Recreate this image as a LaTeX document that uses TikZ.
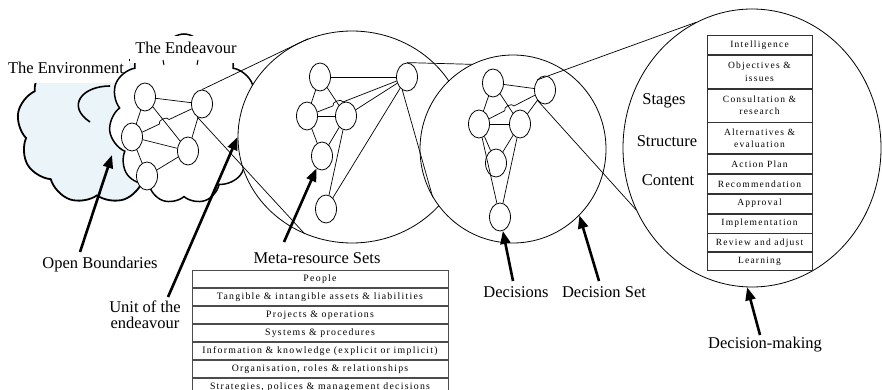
\documentclass[tikz,border=0pt]{standalone}
\usepackage{fontspec}
\setmainfont{Liberation Serif}
\newfontfamily\tabfont[LetterSpace=13]{Liberation Serif}
\usetikzlibrary{shapes.geometric,shapes.symbols,arrows.meta,calc,positioning}
\definecolor{envblue}{HTML}{EAF4F9}
\begin{document}
\begin{tikzpicture}[x=1pt,y=-1pt,
  nd/.style={ellipse, draw, line width=0.8pt, fill=white, minimum width=21pt, minimum height=28pt, inner sep=0pt},
  ed/.style={line width=0.7pt},
  bigc/.style={ellipse, draw, line width=0.8pt, fill=white, inner sep=0pt},
  lbl/.style={font=\fontsize{16.5}{16}\selectfont, inner sep=1pt},
  bigarrow/.style={line width=2.6pt, -{Triangle[length=13pt,width=10pt]}},
  mrow/.style={draw=black!70, line width=1pt, minimum width=256pt, minimum height=17pt, inner sep=0pt, font=\tabfont\fontsize{9.8}{11}\selectfont},
  drow/.style={draw=black!80, line width=0.8pt, minimum width=105pt, inner sep=0pt, align=center, font=\tabfont\fontsize{9.5}{12.5}\selectfont}]
\useasboundingbox (0,0) rectangle (882,390);

% environment cloud
\node[cloud, cloud puffs=9, cloud puff arc=110, draw, line width=1.8pt, fill=envblue, minimum width=160pt, minimum height=156pt, inner sep=0pt] (envc) at (97,126) {};
\draw[line width=1.6pt] (110,86) .. controls (82,86) and (66,106) .. (90,122);
\fill[white] (0,46) rectangle (129,83);
\node[lbl] (envl) at (66,68) {The Environment};

% endeavour cloud
\node[cloud, cloud puffs=11, cloud puff arc=120, draw, line width=1.5pt, fill=white, minimum width=150pt, minimum height=170pt, inner sep=0pt] (endc) at (184,119) {};
\fill[white] (130,36) rectangle (240,63);
\node[lbl] (endl) at (186,48) {The Endeavour};
\draw[line width=1pt] (163,60) -- (164,65);
\draw[line width=1pt] (198,60) -- (197,65);

% big circles
\node[bigc, minimum width=228pt, minimum height=212pt] (c1) at (352,137) {};
\node[bigc, minimum width=186pt, minimum height=188pt] (c2) at (513,149) {};
\node[bigc, minimum width=258pt, minimum height=278pt] (c3) at (752,148) {};

% endeavour network
\node[nd] (n1) at (145,97) {};
\node[nd] (n2) at (202,104) {};
\node[nd] (n3) at (132,137) {};
\node[nd] (n4) at (188,151) {};
\node[nd] (n5) at (147,176) {};
\draw[ed] (n1) -- (n2);
\draw[ed] (n1) -- (n3);
\draw[ed] (n1) -- (n4);
\draw[ed] (n3) -- (n4);
\draw[ed] (n3) -- (n5);
\draw[ed] (n5) -- (n4);
\draw[ed] (n2) -- (n4);
\draw[ed] (n3) -- ($(n3)!0.39!(n2)$) to[bend left=90] ($(n3)!0.53!(n2)$) -- (n2);

% meta-resource network
\node[nd] (m1) at (320,77) {};
\node[nd] (m2) at (407,77) {};
\node[nd] (m3) at (307,116) {};
\node[nd] (m4) at (346,116) {};
\node[nd] (m5) at (322,156) {};
\node[nd] (m6) at (326,209) {};
\draw[ed] (m1) -- (m2);
\draw[ed] (m1) -- (m3);
\draw[ed] (m1) -- (m4);
\draw[ed] (m3) -- (m4);
\draw[ed] (m3) -- (m5);
\draw[ed] (m4) -- (m5);
\draw[ed] (m2) -- (m4);
\draw[ed] (m4) -- (m6);
\draw[ed] (m2) -- (m6);
\draw[ed] (m3) -- ($(m3)!0.26!(m2)$) to[bend left=90] ($(m3)!0.36!(m2)$) -- (m2);

% decision network
\node[nd] (d1) at (493,83) {};
\node[nd] (d2) at (545,90) {};
\node[nd] (d3) at (479,124) {};
\node[nd] (d4) at (520,124) {};
\node[nd] (d5) at (496,163) {};
\node[nd] (d6) at (500,217) {};
\draw[ed] (d1) -- (d2);
\draw[ed] (d1) -- (d3);
\draw[ed] (d1) -- (d4);
\draw[ed] (d3) -- (d4);
\draw[ed] (d3) -- (d5);
\draw[ed] (d4) -- (d5);
\draw[ed] (d2) -- (d4);
\draw[ed] (d3) -- (d6);
\draw[ed] (d4) -- (d6);
\draw[ed] (d3) -- ($(d3)!0.39!(d2)$) to[bend left=90] ($(d3)!0.53!(d2)$) -- (d2);

% zoom lines
\draw[ed] (n2.north) -- (c1.114);
\draw[ed] (n2.250) -- (c1.244);
\draw[ed] (m2.north) -- (c2.116);
\draw[ed] (m2.250) -- (c2.211);
\draw[ed] (d2.north west) -- (c3.114);
\draw[ed] (d2.south west) -- (c3.208);

% decision-making contents
\node[lbl] (stg) at (664,101) {Stages};
\node[lbl] (str) at (667,141) {Structure};
\node[lbl] (cnt) at (668,180) {Content};
\node[drow, minimum height=19pt, anchor=north] (k1) at (759.5,35) {Intelligence};
\node[drow, minimum height=33pt, below=0pt of k1] (k2) {Objectives \&\\issues};
\node[drow, minimum height=33pt, below=0pt of k2] (k3) {Consultation \&\\research};
\node[drow, minimum height=31pt, below=0pt of k3] (k4) {Alternatives \&\\evaluation};
\node[drow, minimum height=19pt, below=0pt of k4] (k5) {Action Plan};
\node[drow, minimum height=19pt, below=0pt of k5] (k6) {Recommendation};
\node[drow, minimum height=19pt, below=0pt of k6] (k7) {Approval};
\node[drow, minimum height=19pt, below=0pt of k7] (k8) {Implementation};
\node[drow, minimum height=18pt, below=0pt of k8] (k9) {Review and adjust};
\node[drow, minimum height=18pt, below=0pt of k9] (k10) {Learning};

% meta-resource table
\node[lbl] (metal) at (317,258) {Meta-resource Sets};
\node[mrow, anchor=north] (t1) at (320,270) {People};
\node[mrow, below=0pt of t1] (t2) {Tangible \& intangible assets \& liabilities};
\node[mrow, below=0pt of t2] (t3) {Projects \& operations};
\node[mrow, below=0pt of t3] (t4) {Systems \& procedures};
\node[mrow, below=0pt of t4] (t5) {Information \& knowledge (explicit or implicit)};
\node[mrow, below=0pt of t5] (t6) {Organisation, roles \& relationships};
\node[mrow, below=0pt of t6] (t7) {Strategies, polices \& management decisions};

% labels
\node[lbl] (obl) at (100,265) {Open Boundaries};
\node[lbl, align=center] (unitl) at (145,315) {Unit of the\\endeavour};
\node[lbl] (decl) at (516,292) {Decisions};
\node[lbl] (dsl) at (604,292) {Decision Set};
\node[lbl] (dml) at (765,345) {Decision-making};

% arrows
\coordinate (obt) at (80,252);
\coordinate (obh) at (112,155);
\coordinate (unt) at (168,297);
\coordinate (met) at (284,242);
\coordinate (dct) at (513,281);
\coordinate (dst) at (599,281);
\coordinate (dmt) at (760,335);
\draw[bigarrow] (obt) -- (obh);
\draw[bigarrow] (unt) -- (c1.180);
\draw[bigarrow] (met) -- (m5);
\draw[bigarrow] (dct) -- (d6);
\draw[bigarrow] (dst) -- (c2.315);
\draw[bigarrow] (dmt) -- (c3.268);
\end{tikzpicture}
\end{document}
